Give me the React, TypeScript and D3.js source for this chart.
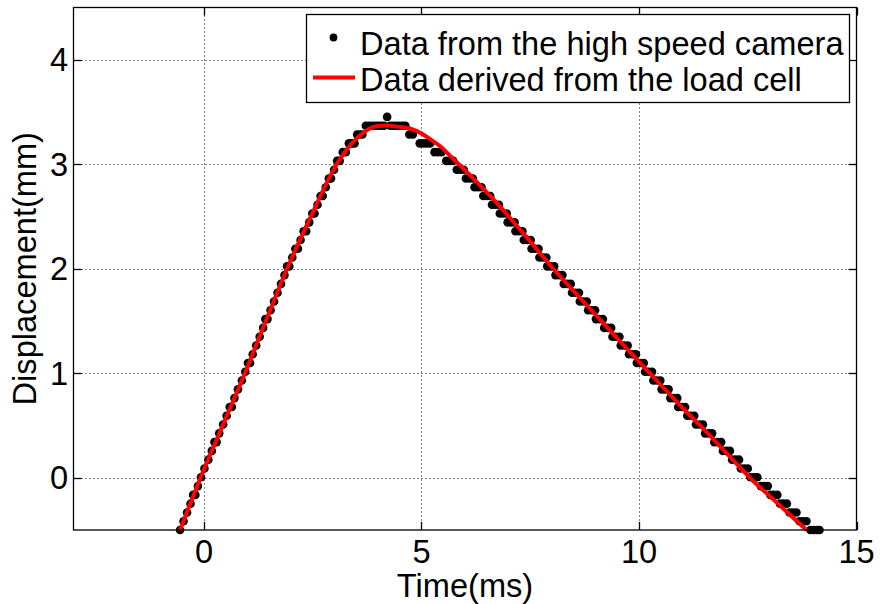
import React from 'react';
import * as d3 from 'd3';

const xTicks = [0, 5, 10, 15];
const yTicks = [0, 1, 2, 3, 4];
const xLabel = 'Time(ms)';
const yLabel = 'Displacement(mm)';
const legendLabels = ['Data from the high speed camera', 'Data derived from the load cell'];

// load-cell derived displacement (red line)
const loadTime = [-0.55, -0.08, 0.45, 0.94, 1.42, 1.91, 2.48, 3.05, 3.4, 3.6, 3.8, 4.0, 4.2, 4.45, 4.75, 5.0, 5.2, 5.45, 5.66, 6.2, 6.73, 7.4, 8.03, 8.6, 9.2, 9.8, 10.41, 11.0, 11.5, 12.0, 12.55, 13.2, 13.85];
const loadDisp = [-0.5, 0, 0.52, 1.0, 1.5, 2.0, 2.52, 3.0, 3.2, 3.28, 3.34, 3.365, 3.37, 3.36, 3.34, 3.295, 3.24, 3.165, 3.08, 2.86, 2.63, 2.31, 2.0, 1.74, 1.47, 1.2, 0.93, 0.67, 0.46, 0.24, 0, -0.25, -0.5];

// high speed camera samples [time ms, displacement mm]
const cameraPoints: [number, number][] = [
  [-0.55, -0.5], [-0.47, -0.416], [-0.39, -0.332], [-0.31, -0.248], [-0.25, -0.164], [-0.2, -0.164], [-0.14, -0.08], [-0.07, 0.005],
  [0.01, 0.089], [0.1, 0.173], [0.18, 0.257], [0.24, 0.341], [0.29, 0.341], [0.35, 0.425], [0.44, 0.509], [0.52, 0.593],
  [0.59, 0.677], [0.64, 0.677], [0.7, 0.762], [0.78, 0.846], [0.87, 0.93], [0.95, 1.014], [1.01, 1.098], [1.06, 1.098],
  [1.12, 1.182], [1.2, 1.266], [1.28, 1.35], [1.36, 1.434], [1.41, 1.518], [1.46, 1.518], [1.53, 1.603], [1.61, 1.687],
  [1.69, 1.771], [1.77, 1.855], [1.85, 1.939], [1.91, 2.023], [1.96, 2.023], [2.03, 2.107], [2.1, 2.191], [2.16, 2.191],
  [2.22, 2.275], [2.29, 2.359], [2.35, 2.359], [2.42, 2.444], [2.49, 2.528], [2.54, 2.528], [2.61, 2.612], [2.68, 2.696],
  [2.73, 2.696], [2.8, 2.78], [2.87, 2.864], [2.92, 2.864], [2.99, 2.948], [3.06, 3.032], [3.12, 3.032], [3.19, 3.116],
  [3.26, 3.116], [3.33, 3.2], [3.4, 3.2], [3.46, 3.2], [3.52, 3.285], [3.58, 3.285], [3.64, 3.285],
  [3.72, 3.369], [3.79, 3.369], [3.86, 3.369], [3.93, 3.369], [4.0, 3.369], [4.07, 3.369], [4.14, 3.369], [4.21, 3.453],
  [4.28, 3.369], [4.35, 3.369], [4.42, 3.369], [4.49, 3.369], [4.56, 3.369], [4.63, 3.369],
  [4.72, 3.285], [4.8, 3.285],
  [4.96, 3.2], [5.04, 3.2], [5.12, 3.2], [5.2, 3.2],
  [5.3, 3.116], [5.38, 3.116], [5.46, 3.116],
  [5.57, 3.032], [5.65, 3.032], [5.73, 3.032],
  [5.81, 2.948], [5.89, 2.948], [5.97, 2.948],
  [6.02, 2.864], [6.1, 2.864], [6.18, 2.864],
  [6.22, 2.78], [6.3, 2.78], [6.38, 2.78],
  [6.42, 2.696], [6.5, 2.696], [6.58, 2.696],
  [6.62, 2.612], [6.7, 2.612], [6.78, 2.612],
  [6.8, 2.528], [6.88, 2.528], [6.96, 2.528],
  [6.98, 2.444], [7.06, 2.444], [7.14, 2.444],
  [7.16, 2.359], [7.24, 2.359], [7.32, 2.359],
  [7.35, 2.275], [7.43, 2.275], [7.51, 2.275],
  [7.53, 2.191], [7.61, 2.191], [7.69, 2.191],
  [7.71, 2.107], [7.79, 2.107], [7.87, 2.107],
  [7.89, 2.023], [7.97, 2.023], [8.05, 2.023],
  [8.08, 1.939], [8.16, 1.939], [8.24, 1.939],
  [8.27, 1.855], [8.35, 1.855], [8.43, 1.855],
  [8.46, 1.771], [8.54, 1.771], [8.62, 1.771],
  [8.64, 1.687], [8.72, 1.687], [8.8, 1.687],
  [8.83, 1.603], [8.91, 1.603], [8.99, 1.603],
  [9.01, 1.518], [9.09, 1.518], [9.17, 1.518],
  [9.2, 1.434], [9.28, 1.434], [9.36, 1.434],
  [9.39, 1.35], [9.47, 1.35], [9.55, 1.35],
  [9.58, 1.266], [9.66, 1.266], [9.74, 1.266],
  [9.77, 1.182], [9.85, 1.182], [9.93, 1.182],
  [9.95, 1.098], [10.03, 1.098], [10.11, 1.098],
  [10.14, 1.014], [10.22, 1.014], [10.3, 1.014],
  [10.33, 0.93], [10.41, 0.93], [10.49, 0.93],
  [10.52, 0.846], [10.6, 0.846], [10.68, 0.846],
  [10.72, 0.762], [10.8, 0.762], [10.88, 0.762],
  [10.9, 0.677], [10.98, 0.677], [11.06, 0.677],
  [11.11, 0.593], [11.19, 0.593], [11.27, 0.593],
  [11.31, 0.509], [11.39, 0.509], [11.47, 0.509],
  [11.52, 0.425], [11.6, 0.425], [11.68, 0.425],
  [11.73, 0.341], [11.81, 0.341], [11.89, 0.341],
  [11.93, 0.257], [12.01, 0.257], [12.09, 0.257],
  [12.14, 0.173], [12.22, 0.173], [12.3, 0.173],
  [12.34, 0.089], [12.42, 0.089], [12.5, 0.089],
  [12.56, 0.005], [12.64, 0.005], [12.72, 0.005],
  [12.8, -0.08], [12.88, -0.08], [12.96, -0.08],
  [13.02, -0.164], [13.1, -0.164], [13.18, -0.164],
  [13.24, -0.248], [13.32, -0.248], [13.4, -0.248],
  [13.46, -0.332], [13.54, -0.332], [13.62, -0.332],
  [13.69, -0.416], [13.77, -0.416], [13.85, -0.416],
  [13.94, -0.5], [14.02, -0.5], [14.1, -0.5], [14.15, -0.5],
];

const FONT = "'Liberation Sans', Arial, Helvetica, sans-serif";
const FS = 32.6;

export default function App() {
  const W = 880;
  const H = 604;
  const left = 73.5, right = 856.5, top = 7.5, bottom = 530;
  const x = d3.scaleLinear().domain([-3, 15]).range([left, right]);
  const y = d3.scaleLinear().domain([-0.5, 4.5]).range([bottom, top]);
  const line = d3
    .line<number>()
    .x((_, i) => x(loadTime[i]))
    .y((d) => y(d))
    .curve(d3.curveMonotoneX);
  const tickLen = 8;
  const snap = (v: number) => Math.round(v) + 0.5;

  return (
    <svg width={W} height={H} style={{ position: 'absolute', left: 0, top: 0, background: '#fff' }} fontFamily={FONT}>
      <rect x={0} y={0} width={W} height={H} fill="#fff" />
      {/* grid */}
      {xTicks.filter((t) => t < 15).map((t) => (
        <line key={'gx' + t} x1={snap(x(t))} x2={snap(x(t))} y1={top} y2={bottom} stroke="#000" strokeWidth={1} strokeDasharray="1,3" />
      ))}
      {yTicks.map((t) => (
        <line key={'gy' + t} x1={left} x2={right} y1={snap(y(t))} y2={snap(y(t))} stroke="#000" strokeWidth={1} strokeDasharray="1,3" />
      ))}
      {/* camera points */}
      {cameraPoints.map(([t, v], i) => (
        <circle key={'c' + i} cx={x(t)} cy={y(v)} r={4.3} fill="#000" />
      ))}
      {/* load cell line */}
      <path d={line(loadDisp) || ''} fill="none" stroke="#ff0000" strokeWidth={4} strokeLinejoin="round" />
      {/* ticks */}
      {xTicks.map((t) => (
        <g key={'tx' + t}>
          <line x1={snap(x(t))} x2={snap(x(t))} y1={bottom} y2={bottom - tickLen} stroke="#000" strokeWidth={1.3} />
          <line x1={snap(x(t))} x2={snap(x(t))} y1={top} y2={top + tickLen} stroke="#000" strokeWidth={1.3} />
          <text x={x(t)} y={563} textAnchor="middle" fontSize={FS} fill="#000">{t}</text>
        </g>
      ))}
      {yTicks.map((t) => (
        <g key={'ty' + t}>
          <line x1={left} x2={left + tickLen} y1={snap(y(t))} y2={snap(y(t))} stroke="#000" strokeWidth={1.3} />
          <line x1={right} x2={right - tickLen} y1={snap(y(t))} y2={snap(y(t))} stroke="#000" strokeWidth={1.3} />
          <text x={68} y={y(t) + 11.5} textAnchor="end" fontSize={FS} fill="#000">{t}</text>
        </g>
      ))}
      {/* axes box */}
      <rect x={left} y={top} width={right - left} height={bottom - top} fill="none" stroke="#000" strokeWidth={1.3} />
      {/* labels */}
      <text x={(left + right) / 2} y={597} textAnchor="middle" fontSize={FS} fill="#000">{xLabel}</text>
      <text transform={`translate(36,${(top + bottom) / 2}) rotate(-90)`} textAnchor="middle" fontSize={FS} fill="#000">{yLabel}</text>
      {/* legend */}
      <rect x={306.5} y={14.5} width={543} height={88} fill="#fff" stroke="#000" strokeWidth={1.3} />
      <circle cx={333.5} cy={37.5} r={3.9} fill="#000" />
      <text x={360} y={54.5} fontSize={FS} fill="#000">{legendLabels[0]}</text>
      <line x1={313} x2={355} y1={77.5} y2={77.5} stroke="#ff0000" strokeWidth={4} />
      <text x={360} y={91} fontSize={FS} fill="#000">{legendLabels[1]}</text>
    </svg>
  );
}
